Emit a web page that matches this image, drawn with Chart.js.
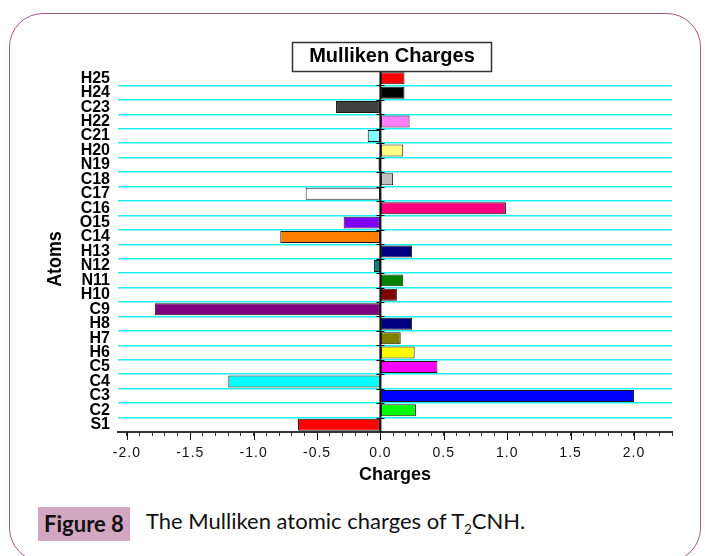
<!DOCTYPE html>
<html>
<head>
<meta charset="utf-8">
<script src="https://cdn.jsdelivr.net/npm/chart.js@4/dist/chart.umd.min.js"></script>
<style>
  body { margin: 0; background: #fff; width: 705px; height: 556px; overflow: hidden; position: relative; }
  #frame { position: absolute; left: 9px; top: 13px; width: 692px; height: 549px; box-sizing: border-box;
           border: 1.5px solid #a9558c; border-radius: 34px; }
  #chart-area { position: absolute; left: 0; top: 0; }
  #figlabel { position: absolute; left: 38px; top: 507px; width: 92px; height: 34px; background: #d3a6c1;
              font: bold 22px Lato, sans-serif; color: #111; text-align: center; line-height: 34px; }
  #figtext { position: absolute; left: 146px; top: 507px; height: 34px; line-height: 34px;
             font: 22px Lato, sans-serif; color: #111; }
  #figtext sub { font-size: 13px; vertical-align: -5px; line-height: 0; }
</style>
</head>
<body>
<div id="frame"></div>
<canvas id="chart-area" width="705" height="500"></canvas>
<div id="figlabel">Figure 8</div>
<div id="figtext">The Mulliken atomic charges of T<sub>2</sub>CNH.</div>
<script>
// atoms from bottom (S1) to top (H25)
var atoms = ['S1', 'C2', 'C3', 'C4', 'C5', 'H6', 'H7', 'H8', 'C9', 'H10', 'N11', 'N12', 'H13',
             'C14', 'O15', 'C16', 'C17', 'C18', 'N19', 'H20', 'C21', 'H22', 'C23', 'H24', 'H25'];
var charges = [-0.65, 0.28, 2.00, -1.20, 0.45, 0.27, 0.16, 0.25, -1.78, 0.13, 0.18, -0.05, 0.25,
               -0.79, -0.29, 0.99, -0.59, 0.10, -0.015, 0.18, -0.10, 0.23, -0.35, 0.19, 0.19];
var barColors = ['#ff0000', '#00ff00', '#0000ff', '#00ffff', '#ff00ff', '#ffff00', '#808000', '#000080',
                 '#800080', '#800000', '#008000', '#008080', '#000080', '#ff8000', '#8000ff', '#ff0080',
                 '#ffffff', '#c0c0c0', '#000000', '#ffff80', '#80ffff', '#ff80ff', '#404040', '#000000', '#ff0000'];
var xTickLabels = [-2.0, -1.5, -1.0, -0.5, 0.0, 0.5, 1.0, 1.5, 2.0];
var xMin = -2.07, xMax = 2.3;

function isLabelled(v) {
    for (var i = 0; i < xTickLabels.length; i++) {
        if (Math.abs(xTickLabels[i] - v) < 1e-6) return true;
    }
    return false;
}

// title box, zero line with its little marks, longer labelled ticks, y title
var extras = {
    id: 'extras',
    afterLayout: function (chart) {
        var s = chart.scales.x;
        if (s._spaced) return;
        var orig = s.drawLabels;
        s.drawLabels = function (area) {
            this.ctx.save();
            this.ctx.letterSpacing = '1px';
            orig.call(this, area);
            this.ctx.restore();
        };
        s._spaced = true;
    },
    afterDatasetsDraw: function (chart) {
        var ctx = chart.ctx, a = chart.chartArea, x = chart.scales.x, y = chart.scales.y;
        var x0 = x.getPixelForValue(0);
        ctx.save();
        ctx.strokeStyle = '#111';
        ctx.lineWidth = 2;
        ctx.beginPath();
        ctx.moveTo(x0, a.top);
        ctx.lineTo(x0, a.bottom);
        ctx.stroke();
        ctx.lineWidth = 1;
        ctx.beginPath();
        var half = (y.getPixelForValue(0) - y.getPixelForValue(1)) / 2;
        for (var i = 0; i < atoms.length; i++) {
            var py = Math.round(y.getPixelForValue(i) - half) + 0.5;
            ctx.moveTo(x0 - 4, py);
            ctx.lineTo(x0 + 4, py);
        }
        xTickLabels.forEach(function (v) {
            var px = Math.round(x.getPixelForValue(v)) + 0.5;
            ctx.moveTo(px, a.bottom);
            ctx.lineTo(px, a.bottom + 8);
        });
        ctx.stroke();

        // chart title in a box
        ctx.fillStyle = '#fff';
        ctx.fillRect(292, 42, 200, 30);
        ctx.strokeStyle = '#333';
        ctx.lineWidth = 1.5;
        ctx.strokeRect(292.5, 42.5, 199, 29);
        ctx.fillStyle = '#000';
        ctx.font = 'bold 20px "Liberation Sans", Arial, sans-serif';
        ctx.textAlign = 'center';
        ctx.textBaseline = 'alphabetic';
        ctx.fillText('Mulliken Charges', 392, 62);

        // y axis title, a bit narrow
        ctx.translate(55, 259);
        ctx.rotate(-Math.PI / 2);
        ctx.scale(0.85, 1);
        ctx.font = 'bold 21px "Liberation Sans", Arial, sans-serif';
        ctx.textBaseline = 'middle';
        ctx.fillText('Atoms', 0, 0);
        ctx.restore();
    }
};

var config = {
    type: 'bar',
    data: {
        labels: atoms,
        datasets: [{
            data: charges,
            backgroundColor: barColors,
            borderColor: '#1a1a1a',
            borderWidth: 1,
            borderSkipped: false,
            barPercentage: 0.83,
            categoryPercentage: 1
        }]
    },
    options: {
        indexAxis: 'y',
        responsive: false,
        animation: false,
        devicePixelRatio: 1,
        layout: { padding: { top: 71, right: 33, left: 0, bottom: 0 } },
        plugins: {
            legend: { display: false },
            tooltip: { enabled: false }
        },
        scales: {
            x: {
                type: 'linear',
                min: xMin,
                max: xMax,
                bounds: 'data',
                // minor marks every 0.1 from -2.0 up to the right end
                afterBuildTicks: function (scale) {
                    var t = [];
                    for (var k = -20; k <= 23; k++) t.push({ value: k / 10 });
                    scale.ticks = t;
                },
                afterFit: function (scale) { scale.height = 68; },
                grid: {
                    drawOnChartArea: false,
                    drawTicks: true,
                    tickLength: 4,
                    tickColor: '#333',
                    tickWidth: 1
                },
                border: { display: true, color: '#333', width: 2 },
                ticks: {
                    autoSkip: false,
                    maxRotation: 0,
                    padding: 9,
                    color: '#111',
                    font: { family: '"Liberation Sans", Arial, sans-serif', size: 14 },
                    callback: function (v) { return isLabelled(v) ? v.toFixed(1) : ''; }
                },
                title: {
                    display: true,
                    text: 'Charges',
                    color: '#000',
                    font: { family: '"Liberation Sans", Arial, sans-serif', size: 18, weight: 'bold' },
                    padding: { top: 0, bottom: 14 }
                }
            },
            y: {
                reverse: true,
                afterFit: function (scale) { scale.width = 118; },
                grid: {
                    drawTicks: false,
                    lineWidth: 1.5,
                    color: function (c) {
                        return (c.type === 'tick' && c.index > 0) ? '#1ef0f0' : 'rgba(0,0,0,0)';
                    }
                },
                border: { display: false },
                ticks: {
                    autoSkip: false,
                    padding: 8,
                    color: '#000',
                    font: { family: '"Liberation Sans", Arial, sans-serif', size: 16, weight: 'bold' }
                }
            }
        }
    },
    plugins: [extras]
};

function CreateGraph() {
    var ctx = document.getElementById('chart-area').getContext('2d');
    window.myBar = new Chart(ctx, config);
}

CreateGraph();
</script>
</body>
</html>
